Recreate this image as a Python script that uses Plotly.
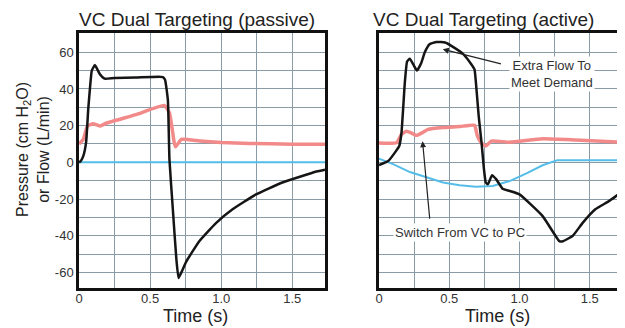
import plotly.graph_objects as go

# ---------------- data ----------------
# Passive panel
t_flow_passive = [0, 0.01, 0.03, 0.05, 0.065, 0.08, 0.09, 0.112, 0.147, 0.18, 0.25, 0.40, 0.59, 0.605,
                  0.625, 0.636, 0.66, 0.685, 0.70, 0.72, 0.755, 0.846, 0.965, 1.08, 1.245, 1.43, 1.67, 1.73]
flow_passive = [0, 0.5, 3.4, 11, 29, 43, 50, 53, 48, 45.6, 46, 46.2, 46.5, 45,
                34, 1.6, -25.6, -53, -63, -60, -54, -43, -33, -25.6, -17.5, -11, -5, -4]

t_press_passive = [0, 0.03, 0.06, 0.10, 0.15, 0.19, 0.40, 0.60, 0.636, 0.67, 0.68, 0.72, 0.85, 1.0,
                   1.2, 1.5, 1.73]
press_passive = [10, 12.5, 19.8, 21, 19.8, 21.3, 26, 31, 27, 10.7, 8.5, 12.5, 11.6, 10.8,
                 10.3, 9.9, 9.8]

t_vol_passive = [0, 1.73]
vol_passive = [0, 0]

# Active panel
t_flow_active = [0, 0.066, 0.113, 0.144, 0.16, 0.184, 0.20, 0.22, 0.25, 0.27, 0.30, 0.326, 0.36, 0.41,
                 0.47, 0.515, 0.60, 0.657, 0.68, 0.69, 0.71, 0.73, 0.745, 0.75, 0.76, 0.775, 0.805,
                 0.835, 0.88, 0.93, 1.0, 1.165, 1.284, 1.31, 1.38, 1.45, 1.54, 1.64, 1.73]
flow_active = [-1.5, 0.7, 5.3, 8.9, 16, 43.6, 55, 56.5, 52.5, 50, 54, 60, 64.4, 65.6,
               65.3, 63.5, 59, 53.5, 50.7, 43.5, 25, 10.7, -2, -5.6, -11, -12, -7,
               -9.3, -14.4, -15.6, -17.5, -29.3, -42.9, -43, -40, -33, -25.6, -21, -16]

t_press_active = [0, 0.125, 0.16, 0.196, 0.23, 0.267, 0.31, 0.35, 0.456, 0.575, 0.68, 0.70, 0.73,
                  0.76, 0.80, 0.93, 1.165, 1.40, 1.73]
press_active = [10.5, 10.7, 15.3, 17, 16, 14.7, 16.2, 18, 19, 19.5, 20.2, 14.4, 10.4,
                8.9, 11.6, 11, 12.9, 12.2, 11]

t_vol_active = [0, 0.1, 0.22, 0.34, 0.456, 0.574, 0.69, 0.81, 0.93, 1.05, 1.165, 1.27, 1.73]
vol_active = [2, -1, -5.3, -8.4, -11, -12.5, -13.3, -12.9, -10.2, -6, -1.6, 1.2, 1.2]

x_tick_vals = [0, 0.5, 1.0, 1.5]
x_tick_text = ["0", "0.5", "1.0", "1.5"]
y_tick_vals = [-60, -40, -20, 0, 20, 40, 60]
y_tick_text = ["-60", "-40", "-20", "0", "20", "40", "60"]

titles = ["VC Dual Targeting (passive)", "VC Dual Targeting (active)"]

# ---------------- figure ----------------
OFF = 8                       # page body margin in the browser
W, H = 625 - OFF, 328 - OFF   # figure size so that it fills the window
FONT = "Liberation Sans, Arial, sans-serif"
GRID = "#8a9ba8"
BLACK = "#151515"
PINK = "#f28a8a"
BLUE = "#55bde8"


def px(x):
    return (x - OFF) / W


def py(y):
    return 1 - (y - OFF) / H


fig = go.Figure()


def add_panel(tb, fb, tp, fp, tv, fv, xa, ya):
    fig.add_trace(go.Scatter(x=tv, y=fv, mode="lines", line=dict(color=BLUE, width=2),
                             xaxis=xa, yaxis=ya, showlegend=False, hoverinfo="skip"))
    fig.add_trace(go.Scatter(x=tp, y=fp, mode="lines",
                             line=dict(color=PINK, width=3.5, shape="spline", smoothing=0.4),
                             xaxis=xa, yaxis=ya, showlegend=False, hoverinfo="skip"))
    fig.add_trace(go.Scatter(x=tb, y=fb, mode="lines",
                             line=dict(color=BLACK, width=2.5, shape="spline", smoothing=0.4),
                             xaxis=xa, yaxis=ya, showlegend=False, hoverinfo="skip"))


add_panel(t_flow_passive, flow_passive, t_press_passive, press_passive, t_vol_passive, vol_passive, "x", "y")
add_panel(t_flow_active, flow_active, t_press_active, press_active, t_vol_active, vol_active, "x2", "y2")

xdom1 = [px(79), px(325)]
xdom2 = [px(379), px(622)]
ydom = [py(288), py(33)]

xcommon = dict(range=[0, 1.73], tickvals=x_tick_vals, ticktext=x_tick_text,
               showgrid=True, gridcolor=GRID, gridwidth=1.3,
               minor=dict(dtick=0.25, tick0=0, showgrid=True, gridcolor=GRID, gridwidth=1.3),
               showline=True, linecolor="#111", linewidth=2.5, mirror=True,
               zeroline=False, ticks="", ticklabelstandoff=-3,
               tickfont=dict(family=FONT, size=13, color="#333"),
               automargin=False, fixedrange=True)
ycommon = dict(range=[-68.5, 70.5], tickvals=y_tick_vals, ticktext=y_tick_text,
               showgrid=True, gridcolor=GRID, gridwidth=1.3,
               minor=dict(dtick=10, tick0=0, showgrid=True, gridcolor=GRID, gridwidth=1.3),
               showline=True, linecolor="#111", linewidth=2.5, mirror=True,
               zeroline=False, ticks="", tickfont=dict(family=FONT, size=13, color="#333"),
               automargin=False, fixedrange=True)

fig.update_layout(
    width=W, height=H, margin=dict(l=0, r=0, t=0, b=0, autoexpand=False),
    paper_bgcolor="white", plot_bgcolor="white",
    font=dict(family=FONT, color="#222"),
    xaxis=dict(domain=xdom1, anchor="y", **xcommon),
    yaxis=dict(domain=ydom, anchor="x", **ycommon),
    xaxis2=dict(domain=xdom2, anchor="y2", **xcommon),
    yaxis2=dict(domain=ydom, anchor="x2", showticklabels=False, **ycommon),
)

ann = []
# panel titles
ann.append(dict(text=titles[0], x=px(77), y=py(19), xref="paper", yref="paper",
                xanchor="left", yanchor="middle", showarrow=False,
                font=dict(family=FONT, size=19, color="#222")))
ann.append(dict(text=titles[1], x=px(371), y=py(19), xref="paper", yref="paper",
                xanchor="left", yanchor="middle", showarrow=False,
                font=dict(family=FONT, size=19, color="#222")))
# x titles
for cx in [195, 497]:
    ann.append(dict(text="Time (s)", x=px(cx), y=py(316), xref="paper", yref="paper",
                    xanchor="center", yanchor="middle", showarrow=False,
                    font=dict(family=FONT, size=18, color="#222")))
# y title
ann.append(dict(text="Pressure (cm H<sub>2</sub>O)<br>or Flow (L/min)", x=px(33), y=py(150),
                xref="paper", yref="paper", xanchor="center", yanchor="middle",
                textangle=-90, showarrow=False,
                font=dict(family=FONT, size=16, color="#222")))

# callouts in the active panel
ann.append(dict(text="", x=0.454, y=61.6, xref="x2", yref="y2", ax=0.879, ay=53.5,
                axref="x2", ayref="y2", showarrow=True, arrowhead=2, arrowsize=1,
                arrowwidth=1.2, arrowcolor="#222"))
ann.append(dict(text="Extra Flow To<br>Meet Demand", x=1.234, y=48, xref="x2", yref="y2",
                showarrow=False, bgcolor="white", borderpad=1,
                font=dict(family=FONT, size=13, color="#333")))
ann.append(dict(text="", x=0.31, y=11.5, xref="x2", yref="y2", ax=0.362, ay=-31.5,
                axref="x2", ayref="y2", showarrow=True, arrowhead=2, arrowsize=1,
                arrowwidth=1.2, arrowcolor="#222"))
ann.append(dict(text="Switch From VC to PC", x=0.574, y=-38.2, xref="x2", yref="y2",
                showarrow=False, bgcolor="white", borderpad=1,
                font=dict(family=FONT, size=13, color="#333")))

fig.update_layout(annotations=ann)
fig.write_html("out.html")
